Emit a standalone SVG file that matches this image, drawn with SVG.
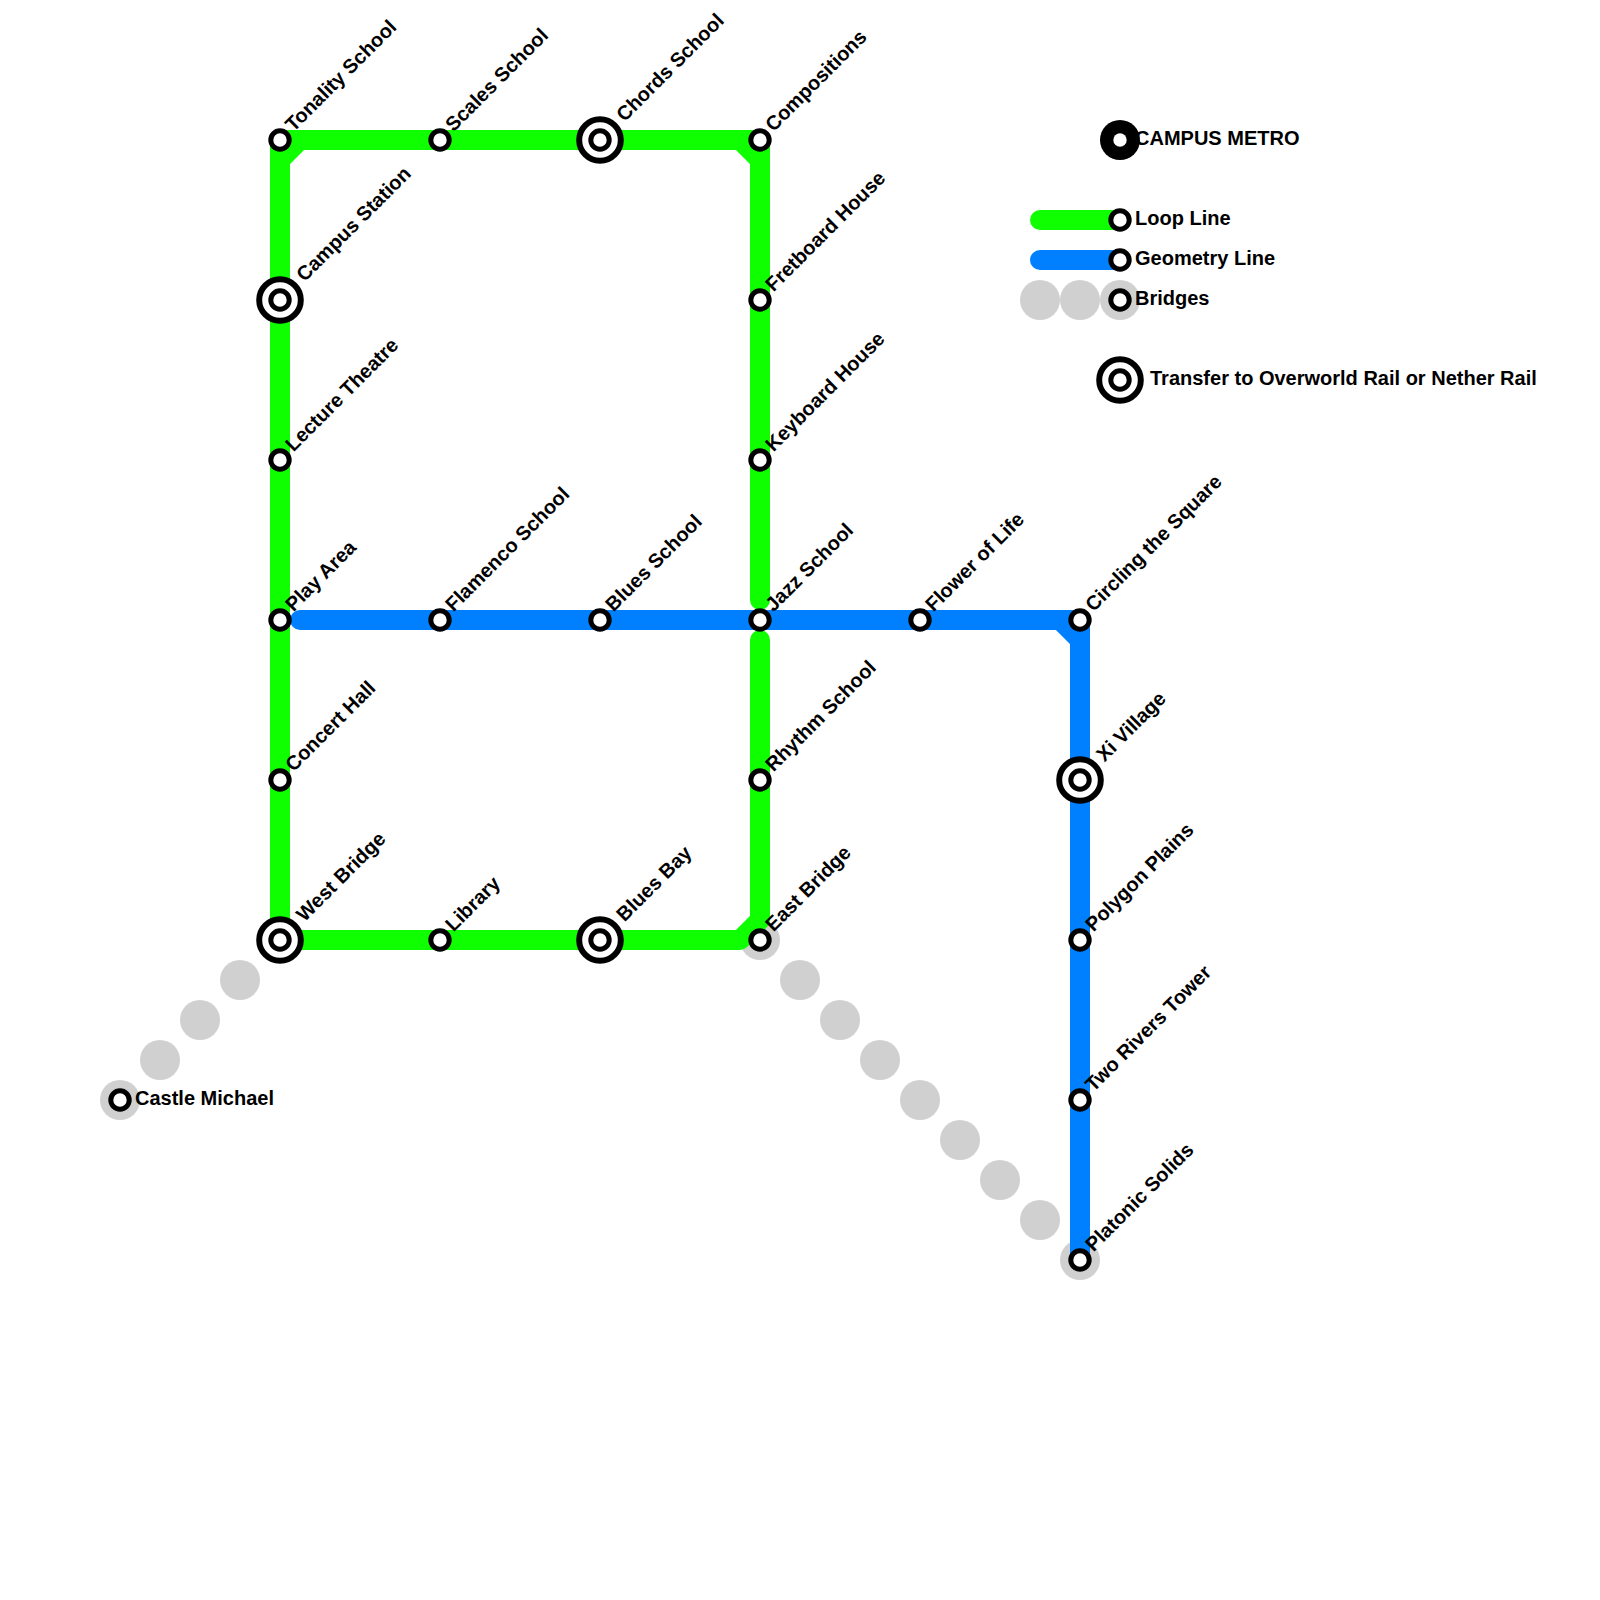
<svg xmlns="http://www.w3.org/2000/svg" width="1600" height="1600" viewBox="0 0 1600 1600">
<style>
.g{stroke:#10ff00;stroke-width:20;fill:none;stroke-linecap:round;stroke-linejoin:round}
.b{stroke:#0080ff;stroke-width:20;fill:none;stroke-linecap:round;stroke-linejoin:round}
.br{fill:#d0d0d0}
.s{fill:#fff;stroke:#000;stroke-width:5}
.t{fill:#fff;stroke:#000;stroke-width:6}
text{font-family:"Liberation Sans",Arial,sans-serif;font-weight:bold;font-size:20px;fill:#000}
</style>
<defs>
<g id="st"><circle class="s" r="9.2"/></g>
<g id="tr"><circle class="t" r="20.8"/><circle class="s" r="9.2"/></g>
</defs>
<g id="bridges">
<circle class="br" cx="120" cy="1100" r="20"/><circle class="br" cx="160" cy="1060" r="20"/><circle class="br" cx="200" cy="1020" r="20"/><circle class="br" cx="240" cy="980" r="20"/>
<circle class="br" cx="760" cy="940" r="20"/><circle class="br" cx="800" cy="980" r="20"/><circle class="br" cx="840" cy="1020" r="20"/><circle class="br" cx="880" cy="1060" r="20"/><circle class="br" cx="920" cy="1100" r="20"/><circle class="br" cx="960" cy="1140" r="20"/><circle class="br" cx="1000" cy="1180" r="20"/><circle class="br" cx="1040" cy="1220" r="20"/><circle class="br" cx="1080" cy="1260" r="20"/>
<circle class="br" cx="1040" cy="300" r="20"/><circle class="br" cx="1080" cy="300" r="20"/><circle class="br" cx="1120" cy="300" r="20"/>
</g>
<g id="connectors">
<path class="g" d="M280 140H760V160L740 140M760 140V600M280 140V920M280 160L300 140M760 640V920L740 940H300M280 940V920M280 940H300"/>
<path class="b" d="M300 620H1060L1080 640V1260M1060 620H1080V640"/>
<path class="g" d="M1040 220H1120"/>
<path class="b" d="M1040 260H1120"/>
</g>
<g id="tonality"><use href="#st" x="280" y="140"/><text transform="translate(293.5 132.5) rotate(-45)">Tonality School</text></g>
<g id="scales"><use href="#st" x="440" y="140"/><text transform="translate(453.5 132.5) rotate(-45)">Scales School</text></g>
<g id="chords"><use href="#tr" x="600" y="140"/><text transform="translate(624.5 122.5) rotate(-45)">Chords School</text></g>
<g id="compositions"><use href="#st" x="760" y="140"/><text transform="translate(773.5 132.5) rotate(-45)">Compositions</text></g>
<g id="campus"><use href="#tr" x="280" y="300"/><text transform="translate(304.5 282.5) rotate(-45)">Campus Station</text></g>
<g id="lecture"><use href="#st" x="280" y="460"/><text transform="translate(293.5 452.5) rotate(-45)">Lecture Theatre</text></g>
<g id="play"><use href="#st" x="280" y="620"/><text transform="translate(293.5 612.5) rotate(-45)">Play Area</text></g>
<g id="concert"><use href="#st" x="280" y="780"/><text transform="translate(293.5 772.5) rotate(-45)">Concert Hall</text></g>
<g id="west"><use href="#tr" x="280" y="940"/><text transform="translate(304.5 922.5) rotate(-45)">West Bridge</text></g>
<g id="library"><use href="#st" x="440" y="940"/><text transform="translate(453.5 932.5) rotate(-45)">Library</text></g>
<g id="bluesbay"><use href="#tr" x="600" y="940"/><text transform="translate(624.5 922.5) rotate(-45)">Blues Bay</text></g>
<g id="east"><use href="#st" x="760" y="940"/><text transform="translate(773.5 932.5) rotate(-45)">East Bridge</text></g>
<g id="fretboard"><use href="#st" x="760" y="300"/><text transform="translate(773.5 292.5) rotate(-45)">Fretboard House</text></g>
<g id="keyboard"><use href="#st" x="760" y="460"/><text transform="translate(773.5 452.5) rotate(-45)">Keyboard House</text></g>
<g id="jazz"><use href="#st" x="760" y="620"/><text transform="translate(773.5 612.5) rotate(-45)">Jazz School</text></g>
<g id="rhythm"><use href="#st" x="760" y="780"/><text transform="translate(773.5 772.5) rotate(-45)">Rhythm School</text></g>
<g id="flamenco"><use href="#st" x="440" y="620"/><text transform="translate(453.5 612.5) rotate(-45)">Flamenco School</text></g>
<g id="blues"><use href="#st" x="600" y="620"/><text transform="translate(613.5 612.5) rotate(-45)">Blues School</text></g>
<g id="flower"><use href="#st" x="920" y="620"/><text transform="translate(933.5 612.5) rotate(-45)">Flower of Life</text></g>
<g id="circling"><use href="#st" x="1080" y="620"/><text transform="translate(1093.5 612.5) rotate(-45)">Circling the Square</text></g>
<g id="xi"><use href="#tr" x="1080" y="780"/><text transform="translate(1104.5 762.5) rotate(-45)">Xi Village</text></g>
<g id="polygon"><use href="#st" x="1080" y="940"/><text transform="translate(1093.5 932.5) rotate(-45)">Polygon Plains</text></g>
<g id="tworivers"><use href="#st" x="1080" y="1100"/><text transform="translate(1093.5 1092.5) rotate(-45)">Two Rivers Tower</text></g>
<g id="platonic"><use href="#st" x="1080" y="1260"/><text transform="translate(1093.5 1252.5) rotate(-45)">Platonic Solids</text></g>
<g id="castle"><use href="#st" x="120" y="1100"/><text x="135" y="1105">Castle Michael</text></g>
<g id="legend-title"><circle cx="1120" cy="140" r="20" fill="#000"/><circle cx="1120" cy="140" r="6.7" fill="#fff"/><text x="1135" y="145">CAMPUS METRO</text></g>
<g id="legend-loop"><use href="#st" x="1120" y="220"/><text x="1135" y="225">Loop Line</text></g>
<g id="legend-geometry"><use href="#st" x="1120" y="260"/><text x="1135" y="265">Geometry Line</text></g>
<g id="legend-bridges"><use href="#st" x="1120" y="300"/><text x="1135" y="305">Bridges</text></g>
<g id="legend-transfer"><use href="#tr" x="1120" y="380"/><text x="1150" y="385">Transfer to Overworld Rail or Nether Rail</text></g>
</svg>
